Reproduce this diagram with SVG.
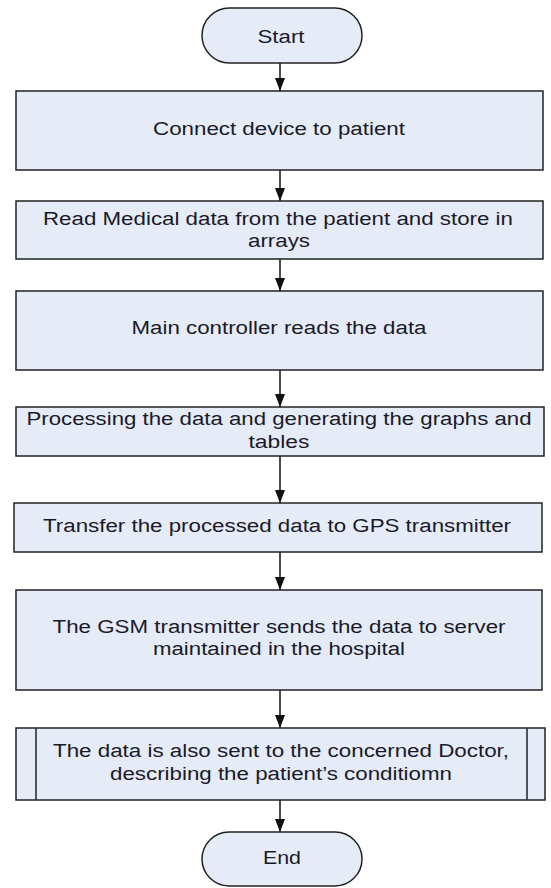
<svg xmlns="http://www.w3.org/2000/svg" width="551" height="888" viewBox="0 0 551 888">
  <style>
    .shape { fill: #E6ECF7; stroke: #222222; stroke-width: 1.5; }
    .divider { fill: none; stroke: #222222; stroke-width: 1.5; }
    .label { font-family: "Liberation Sans", Arial, sans-serif; font-size: 18px; fill: #1a1a2a; text-anchor: middle; }
    .edge { fill: none; stroke: #111111; stroke-width: 1.5; marker-end: url(#arrow); }
  </style>
  <defs>
    <!-- filled triangular arrowhead, tip at the end of the line -->
    <marker id="arrow" viewBox="0 0 13 10" refX="13" refY="5" markerWidth="13" markerHeight="10" markerUnits="userSpaceOnUse" orient="auto">
      <path d="M0,0 L13,5 L0,10 Z" fill="#111111" />
    </marker>
  </defs>

  <rect width="551" height="888" fill="#ffffff" />

  <!-- connectors -->
  <g id="connectors">
    <line class="edge" x1="280" y1="63" x2="280" y2="91" />
    <line class="edge" x1="280" y1="170" x2="280" y2="201" />
    <line class="edge" x1="280" y1="259" x2="280" y2="291" />
    <line class="edge" x1="280" y1="370" x2="280" y2="407" />
    <line class="edge" x1="280" y1="456" x2="280" y2="503" />
    <line class="edge" x1="280" y1="552" x2="280" y2="590" />
    <line class="edge" x1="280" y1="690" x2="280" y2="728" />
    <line class="edge" x1="280" y1="800" x2="280" y2="832" />
  </g>

  <g id="start">
    <rect class="shape" x="202" y="8" width="160" height="55" rx="27.5" ry="27.5" />
    <text class="label" x="281" y="43" textLength="47" lengthAdjust="spacingAndGlyphs">Start</text>
  </g>

  <g id="connect">
    <rect class="shape" x="16" y="91" width="527" height="79" />
    <text class="label" x="279" y="135" textLength="252" lengthAdjust="spacingAndGlyphs">Connect device to patient</text>
  </g>

  <g id="read">
    <rect class="shape" x="16" y="201" width="527" height="58" />
    <text class="label" x="278" y="225" textLength="470" lengthAdjust="spacingAndGlyphs">Read Medical data from the patient and store in</text>
    <text class="label" x="279" y="247" textLength="62" lengthAdjust="spacingAndGlyphs">arrays</text>
  </g>

  <g id="controller">
    <rect class="shape" x="16" y="291" width="527" height="79" />
    <text class="label" x="279" y="334" textLength="295" lengthAdjust="spacingAndGlyphs">Main controller reads the data</text>
  </g>

  <g id="processing">
    <rect class="shape" x="16" y="407" width="528" height="49" />
    <text class="label" x="279" y="425" textLength="505" lengthAdjust="spacingAndGlyphs">Processing the data and generating the graphs and</text>
    <text class="label" x="279" y="448" textLength="61" lengthAdjust="spacingAndGlyphs">tables</text>
  </g>

  <g id="transfer">
    <rect class="shape" x="14" y="503" width="528" height="49" />
    <text class="label" x="277" y="532" textLength="468" lengthAdjust="spacingAndGlyphs">Transfer the processed data to GPS transmitter</text>
  </g>

  <g id="gsm">
    <rect class="shape" x="16" y="590" width="526" height="100" />
    <text class="label" x="279" y="633" textLength="453" lengthAdjust="spacingAndGlyphs">The GSM transmitter sends the data to server</text>
    <text class="label" x="279" y="655" textLength="252" lengthAdjust="spacingAndGlyphs">maintained in the hospital</text>
  </g>

  <g id="doctor">
    <rect class="shape" x="16" y="728" width="529" height="72" />
    <line class="divider" x1="36" y1="728" x2="36" y2="800" />
    <line class="divider" x1="527" y1="728" x2="527" y2="800" />
    <text class="label" x="281" y="757" textLength="456" lengthAdjust="spacingAndGlyphs">The data is also sent to the concerned Doctor,</text>
    <text class="label" x="281" y="780" textLength="342" lengthAdjust="spacingAndGlyphs">describing the patient’s conditiomn</text>
  </g>

  <g id="end">
    <rect class="shape" x="202" y="832" width="160" height="54" rx="27" ry="27" />
    <text class="label" x="282" y="864" textLength="38" lengthAdjust="spacingAndGlyphs">End</text>
  </g>
</svg>
